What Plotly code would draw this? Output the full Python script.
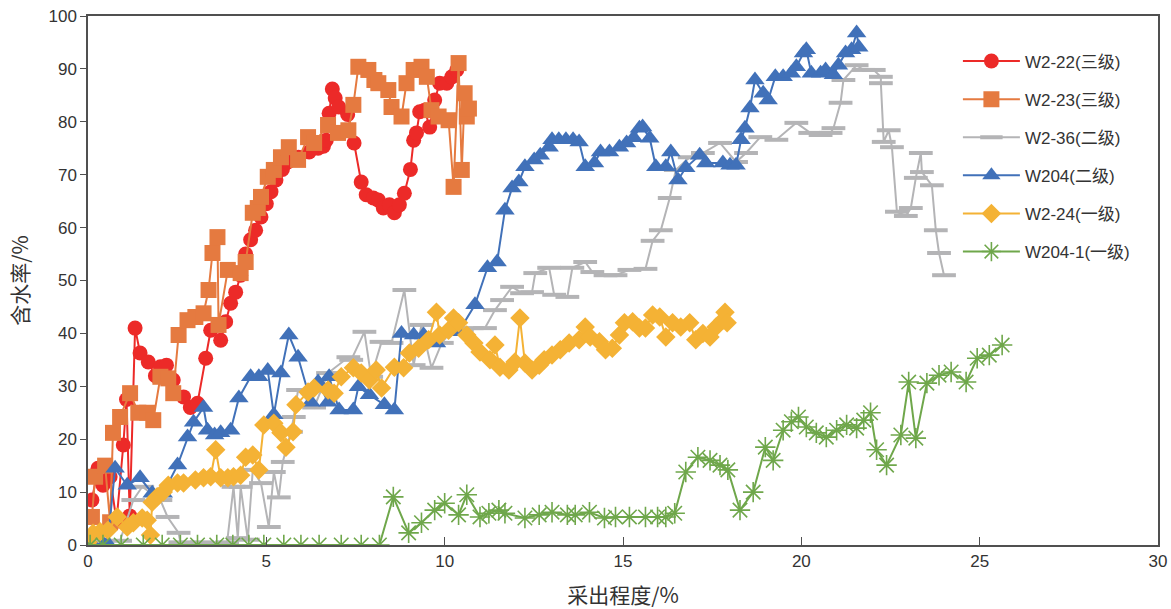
import plotly.graph_objects as go

# ---------------- data ----------------
w2_22_x = [0.11, 0.28, 0.42, 0.62, 0.80, 0.99, 1.08, 1.17, 1.32, 1.46, 1.69, 1.89, 2.03, 2.20, 2.39, 2.68, 2.87, 3.07,
           3.30, 3.44, 3.72, 3.86, 4.00, 4.14, 4.28, 4.42, 4.56, 4.70, 4.85, 5.00, 5.13, 5.27, 5.45, 5.60, 5.90, 6.20,
           6.45, 6.60, 6.68, 6.76, 6.85, 6.93, 7.03, 7.28, 7.46, 7.66, 7.80, 8.00, 8.14, 8.28, 8.45, 8.59, 8.73, 8.87,
           9.04, 9.13, 9.21, 9.30, 9.44, 9.58, 9.72, 9.86, 10.06, 10.20, 10.34]
w2_22_y = [8.5, 14.5, 11.3, 12.9, 4.5, 18.9, 27.5, 5.5, 41.0, 36.3, 34.6, 32.0, 33.7, 34.0, 31.2, 28.0, 26.0, 26.8,
           35.3, 40.6, 38.7, 42.2, 45.7, 47.8, 51.0, 55.0, 57.7, 59.5, 62.0, 64.5, 66.8, 69.0, 71.0, 72.4, 73.3, 74.3,
           75.0, 75.4, 76.5, 81.6, 86.2, 84.5, 82.8, 81.4, 76.0, 68.6, 66.2, 65.6, 65.2, 63.7, 64.3, 62.8, 64.3, 66.5,
           71.0, 76.5, 77.9, 81.9, 82.2, 79.0, 84.1, 87.3, 87.3, 88.5, 89.8]

w2_23_x = [0.11, 0.20, 0.48, 0.62, 0.70, 0.90, 1.18, 1.41, 1.66, 1.83, 2.03, 2.25, 2.39, 2.54, 2.79, 3.01, 3.24, 3.38,
           3.49, 3.63, 3.66, 3.92, 4.28, 4.42, 4.62, 4.76, 4.85, 5.04, 5.21, 5.41, 5.63, 5.89, 6.17, 6.34, 6.73, 7.01,
           7.30, 7.44, 7.58, 7.86, 8.03, 8.14, 8.42, 8.51, 8.79, 8.93, 9.13, 9.35, 9.50, 9.63, 9.83, 10.11, 10.25, 10.39,
           10.48, 10.56, 10.62, 10.68]
w2_23_y = [5.3, 12.9, 15.0, 4.3, 21.2, 24.2, 28.7, 25.0, 25.0, 23.6, 31.8, 31.5, 28.7, 39.7, 42.5, 43.1, 43.8, 48.2,
           55.2, 58.2, 41.6, 52.0, 51.4, 53.5, 62.8, 63.7, 65.8, 69.6, 70.9, 73.3, 75.2, 72.8, 77.1, 76.0, 79.4, 77.9,
           78.4, 83.2, 90.4, 89.8, 87.9, 87.3, 86.0, 82.8, 81.0, 87.3, 89.8, 90.4, 88.5, 82.2, 81.0, 80.3, 67.7, 91.1,
           70.9, 85.4, 81.0, 82.5]

w2_36_x = [0.30, 0.90, 1.27, 1.52, 2.03, 2.23, 2.54, 2.59, 3.20, 3.90, 4.08, 4.20, 4.28, 4.48, 4.62, 4.85, 5.07, 5.21,
           5.35, 5.46, 5.69, 5.77, 5.89, 6.34, 6.73, 7.30, 7.38, 7.75, 7.94, 8.23, 8.51, 8.87, 9.13, 9.35, 9.63, 9.92,
           10.20, 10.48, 10.76, 11.13, 11.41, 11.61, 11.89, 12.17, 12.45, 12.54, 12.93, 13.07, 13.44, 13.58, 13.94,
           14.14, 14.51, 14.79, 15.18, 15.63, 15.83, 16.06, 16.31, 16.48, 16.87, 17.24, 17.72, 18.17, 18.45, 18.85,
           19.30, 19.86, 20.25, 20.54, 20.82, 20.90, 21.10, 21.18, 21.55, 21.75, 22.03, 22.23, 22.23, 22.31, 22.45,
           22.54, 22.68, 22.93, 23.07, 23.21, 23.35, 23.38, 23.66, 23.77, 23.86, 24.00]
w2_36_y = [0.5, 0.8, 8.5, 11.0, 8.5, 5.3, 2.3, 0.5, 0.5, 0.5, 11.0, 1.3, 11.0, 1.0, 14.2, 11.7, 3.4, 13.8,
           9.0, 15.7, 21.4, 24.2, 29.3, 26.0, 32.5, 35.5, 35.0, 40.3, 31.8, 38.4, 38.2, 48.2, 34.0, 41.6, 33.5, 38.2,
           40.6, 40.6, 41.0, 41.0, 44.4, 46.3, 48.8, 47.6, 47.8, 51.4, 52.4, 47.3, 46.9, 52.4, 53.5,
           51.6, 51.0, 51.0, 52.0, 52.2, 57.5, 59.5, 65.6, 70.9, 73.3, 74.1, 76.0, 72.4, 74.1, 77.1,
           76.6, 79.8, 77.9, 77.5, 77.9, 78.8, 83.6, 87.9, 90.7, 89.8, 89.8, 88.5, 87.3, 76.2, 78.4,
           75.2, 63.0, 62.2, 63.7, 69.4, 74.1, 70.5, 68.0, 59.5, 55.2, 51.0]

w204_x = [0.10, 0.45, 0.55, 0.76, 1.10, 1.46, 1.80, 2.11, 2.51, 2.79, 2.96, 3.24, 3.35, 3.55, 3.72, 4.00, 4.23, 4.56,
          4.79, 5.04, 5.21, 5.41, 5.63, 5.89, 6.25, 6.45, 6.73, 6.76, 7.04, 7.44, 7.58, 7.89, 8.31, 8.59, 8.79, 9.13,
          9.41, 9.77, 10.20, 10.39, 10.85, 11.20, 11.47, 11.69, 11.89, 12.08, 12.25, 12.51, 12.68, 12.93, 13.01, 13.20,
          13.40, 13.60, 13.77, 13.94, 14.20, 14.37, 14.62, 14.90, 15.10, 15.30, 15.46, 15.55, 15.75, 15.92, 16.20,
          16.34, 16.54, 16.76, 17.15, 17.32, 17.80, 18.00, 18.17, 18.31, 18.42, 18.56, 18.70, 18.93, 19.07, 19.27,
          19.49, 19.72, 19.86, 20.06, 20.14, 20.28, 20.54, 20.68, 20.90, 21.04, 21.24, 21.41, 21.55, 21.61]
w204_y = [0.4, 0.0, 0.3, 14.5, 11.3, 12.7, 9.8, 9.8, 15.1, 20.4, 23.2, 26.0, 21.7, 20.8, 21.2, 21.7, 27.8, 31.8,
          31.8, 33.0, 24.6, 32.5, 39.7, 35.5, 27.0, 30.8, 27.0, 31.8, 25.5, 25.5, 29.9, 28.4, 26.5, 25.5, 40.0, 39.7,
          39.7, 38.2, 41.6, 40.3, 45.4, 52.4, 53.5, 63.3, 67.5, 68.6, 71.5, 72.8, 73.7, 75.2, 76.6, 76.6,
          76.6, 76.6, 76.2, 71.5, 72.2, 74.3, 74.3, 75.2, 76.0, 77.0, 78.8, 79.0, 76.9, 71.5, 71.5,
          74.3, 69.0, 71.3, 73.7, 72.2, 72.2, 71.8, 71.8, 76.6, 78.8, 82.6, 87.9, 85.4, 84.1, 88.5,
          88.5, 89.2, 90.4, 93.0, 93.6, 89.2, 89.2, 89.8, 88.9, 90.7, 93.0, 93.6, 96.8, 94.1]

w2_24_x = [0.0, 0.14, 0.34, 0.56, 0.82, 1.10, 1.27, 1.52, 1.66, 1.75, 1.80, 1.94, 2.11, 2.25, 2.51, 2.68, 3.01, 3.24,
           3.44, 3.58, 3.72, 3.92, 4.08, 4.28, 4.42, 4.62, 4.79, 4.93, 5.21, 5.41, 5.55, 5.75, 5.83, 6.17, 6.34, 6.73,
           6.90, 7.10, 7.44, 7.66, 7.89, 8.08, 8.23, 8.59, 8.85, 9.01, 9.27, 9.55, 9.77, 9.86, 10.11, 10.25, 10.39,
           10.62, 10.82, 10.99, 11.27, 11.41, 11.55, 11.80, 11.97, 12.11, 12.25, 12.45, 12.65, 12.79, 13.01, 13.24,
           13.49, 13.77, 13.94, 14.08, 14.34, 14.51, 14.70, 14.90, 15.04, 15.27, 15.46, 15.63, 15.83, 16.03, 16.20,
           16.39, 16.62, 16.87, 17.04, 17.24, 17.44, 17.61, 17.80, 17.86, 17.92]
w2_24_y = [0.5, 2.2, 2.5, 2.8, 5.3, 3.4, 4.2, 5.1, 4.7, 1.9, 8.1, 9.1, 10.0, 11.3, 11.7, 11.7, 12.3, 12.7,
           12.9, 18.0, 12.7, 12.7, 12.9, 13.2, 16.6, 17.0, 14.2, 22.7, 23.0, 21.2, 18.5, 21.4, 26.5, 28.9, 29.7, 29.3,
           28.7, 31.8, 33.5, 32.5, 31.2, 33.1, 29.7, 33.6, 33.5, 36.3, 37.2, 38.8, 44.0, 39.7, 40.6, 42.9, 42.0,
           39.7, 38.2, 36.5, 35.0, 37.8, 33.6, 33.1, 34.6, 42.9, 34.4, 33.1, 34.0, 35.0, 35.9, 36.9,
           38.2, 38.8, 41.2, 39.3, 38.4, 36.9, 37.2, 39.7, 42.0, 42.2, 41.0, 41.0, 43.5, 43.1, 39.3,
           42.0, 41.2, 42.0, 38.8, 40.0, 39.3, 41.2, 42.5, 44.0, 42.0]

w204_1_x = [0.06, 0.42, 0.93, 1.55, 2.08, 2.59, 3.07, 3.61, 4.06, 4.51, 4.93, 5.49, 5.97, 6.48, 7.10, 7.66, 8.17,
            8.56, 8.99, 9.35, 9.72, 10.00, 10.39, 10.62, 10.99, 11.24, 11.52, 11.69, 12.25, 12.65, 13.01, 13.44, 13.66,
            14.06, 14.48, 14.79, 15.18, 15.63, 15.97, 16.20, 16.45, 16.76, 17.10, 17.44, 17.72, 17.94, 18.28, 18.65,
            18.99, 19.21, 19.49, 19.72, 19.92, 20.14, 20.42, 20.70, 20.99, 21.27, 21.55, 21.75, 21.94, 22.11, 22.39,
            22.79, 23.01, 23.21, 23.52, 23.86, 24.20, 24.62, 24.93, 25.27, 25.63]
w204_1_y = [0, 0, 0, 0, 0, 0, 0, 0, 0, 0, 0, 0, 0, 0, 0, 0, 0,
            9.1, 2.3, 4.2, 6.6, 7.9, 5.7, 9.5, 5.3, 6.0, 6.6, 6.0, 5.1, 5.7, 6.2, 5.7, 5.7,
            6.2, 5.1, 5.3, 5.3, 5.3, 5.3, 5.3, 6.0, 13.8, 16.6, 16.0, 15.1, 14.2, 6.6, 10.0,
            18.5, 16.0, 21.7, 23.3, 24.2, 22.3, 21.2, 20.4, 21.7, 22.7, 22.1, 23.6, 25.0, 18.0, 15.1,
            20.8, 30.8, 20.2, 30.6, 32.1, 32.7, 30.8, 35.3, 35.9, 37.8]

names = ["W2-22(三级)", "W2-23(三级)", "W2-36(二级)", "W204(二级)", "W2-24(一级)", "W204-1(一级)"]
xs = [w2_22_x, w2_23_x, w2_36_x, w204_x, w2_24_x, w204_1_x]
ys = [w2_22_y, w2_23_y, w2_36_y, w204_y, w2_24_y, w204_1_y]
colors = ["#EC2A28", "#E57A40", "#B4B4B6", "#4171B9", "#F4B235", "#6FA74B"]
symbols = ["circle", "square", "line-ew", "triangle-up", "diamond", "asterisk-open"]
sizes = [15, 16, 17, 17, 15, 17]

FONT = "Liberation Sans, Arial, Noto Sans CJK SC, sans-serif"

fig = go.Figure()
for i in range(6):
    mk = dict(symbol=symbols[i], size=sizes[i], color=colors[i])
    if symbols[i] == "line-ew":
        mk["line"] = dict(color=colors[i], width=4)
    elif symbols[i] == "asterisk-open":
        mk["line"] = dict(color=colors[i], width=1.6)
    else:
        mk["line"] = dict(width=0)
    fig.add_trace(go.Scatter(
        x=xs[i], y=ys[i], name=names[i], mode="lines+markers",
        line=dict(color=colors[i], width=2), marker=mk,
        legendgroup=f"g{i}",
    ))

axis_common = dict(
    showgrid=False, zeroline=False, showline=True, mirror=True, automargin=False,
    linecolor="#505050", linewidth=1.5,
    tickcolor="#505050", tickfont=dict(family=FONT, size=17, color="#333333"),
)

fig.update_layout(
    width=1171, height=609,
    margin=dict(l=88, r=13, t=16, b=64),
    paper_bgcolor="white", plot_bgcolor="white",
    font=dict(family=FONT, color="#333333"),
    showlegend=True,
    legend=dict(
        x=0.813, y=0.948, xanchor="left", yanchor="top",
        font=dict(family=FONT, size=17, color="#333333"),
        bgcolor="rgba(255,255,255,0)", borderwidth=0,
        itemwidth=57, tracegroupgap=13, traceorder="grouped",
    ),
    xaxis=dict(range=[0, 30], dtick=5, ticklen=8, ticks="inside",
               title=dict(text="采出程度/%", font=dict(family="Noto Sans CJK SC", size=21, color="#333333"), standoff=18),
               **axis_common),
    yaxis=dict(range=[0, 100], dtick=10, ticklen=6, ticks="outside",
               title=dict(text="含水率/%", font=dict(family="Noto Sans CJK SC", size=21, color="#333333"), standoff=14),
               **axis_common),
)

fig.write_html("out.html")
